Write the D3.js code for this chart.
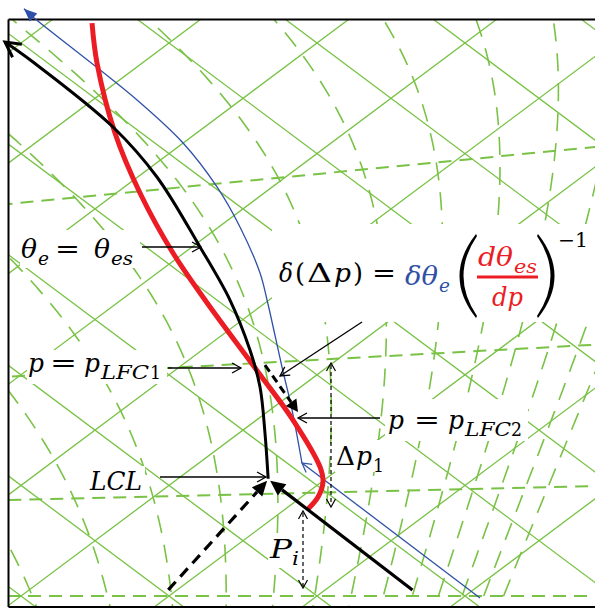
<!DOCTYPE html>
<html><head><meta charset="utf-8">
<script src="https://cdn.jsdelivr.net/npm/d3@7"></script>
<style>body{margin:0;background:#fff}svg{display:block}</style>
</head><body>
<svg id="chart" width="595" height="610"></svg>
<script>
// ---- Diagram coordinate families (temperature / potential temperature in °C, pressure in hPa) ----
const isotherms   = [-60, -50, -40, -30, -20, -10, 0, 10, 20, 30, 40];
const isentropes  = [-10, 0, 10, 20, 30, 40, 50, 60, 70, 80, 90, 100];
const isobars     = [1000, 800, 600, 400];
const satThetaEs  = [285, 295, 305, 315, 325, 335, 345, 355, 365, 375, 385, 395, 405]; // K

// ---- Profiles as (T, θ) pairs, °C ----
const lcl          = {T: 6.1, th: 27.3};
const parcelDry    = [{T: 25.9, th: 27.0}, lcl];
const dewPointLine = [{T: 9.4, th: 10.5}, lcl];
const parcelMoist  = [lcl, {T: 1.75, th: 31.22}, {T: -2.75, th: 35.05}, {T: -6.77, th: 37.71},
  {T: -12.64, th: 40.88}, {T: -19.46, th: 43.65}, {T: -28.70, th: 47.07}, {T: -36.19, th: 48.62},
  {T: -47.47, th: 49.09}, {T: -51.17, th: 49.01}];
const thetaEsCurve = [{T: -47.0, th: 56.6}, {T: -43.06, th: 53.33}, {T: -35.51, th: 48.21},
  {T: -28.40, th: 44.48}, {T: -20.74, th: 41.28}, {T: -14.33, th: 39.20}, {T: -4.24, th: 36.27},
  {T: 2.47, th: 34.29}, {T: 8.54, th: 31.87}, {T: 10.10, th: 30.71}, {T: 11.12, th: 29.02},
  {T: 11.55, th: 27.10}];
const thetaELow    = [{T: 31.2, th: 30.83}, {T: 6.96, th: 31.01}];
const thetaEHigh   = [{T: 6.96, th: 31.01}, {T: 1.50, th: 35.13}, {T: -3.07, th: 38.34},
  {T: -10.14, th: 43.39}, {T: -13.06, th: 45.36}, {T: -18.57, th: 48.16}, {T: -23.74, th: 50.23},
  {T: -30.01, th: 51.91}, {T: -37.01, th: 52.69}, {T: -51.54, th: 53.16}, {T: -52.9, th: 53.3}];
const shiftArrow   = [{T: -4.4, th: 37.37}, {T: 2.08, th: 35.35}];

const KAPPA = 0.2857;
const GREEN = "#79c245", RED = "#ec1c24", BLUE = "#2f50a6";

// rotated T–θ axes: horizontal position follows T+θ, vertical follows θ−T
const sx = d3.scaleLinear().domain([0, 20]).range([21, 169]);
const sy = d3.scaleLinear().domain([0, 100]).range([596, 43]);
const px = d => sx(d.T + d.th), py = d => sy(d.th - d.T);
const line = d3.line().x(px).y(py);
const smooth = d3.line().x(px).y(py).curve(d3.curveCatmullRom.alpha(0.5));

const svg = d3.select("#chart");
svg.append("defs").append("clipPath").attr("id", "frame")
  .append("rect").attr("x", 8.5).attr("y", 19.5).attr("width", 590).attr("height", 587.5);
const grid = svg.append("g").attr("clip-path", "url(#frame)");

// isotherms and dry adiabats
isotherms.forEach(T => grid.append("path").attr("d", line([{T, th: -80}, {T, th: 160}]))
  .attr("stroke", GREEN).attr("stroke-width", 1.3).attr("fill", "none"));
isentropes.forEach(th => grid.append("path").attr("d", line([{T: -140, th}, {T: 80, th}]))
  .attr("stroke", GREEN).attr("stroke-width", 1.3).attr("fill", "none"));

// isobars
isobars.forEach(p => {
  const c = Math.pow(1000 / p, KAPPA);
  const pts = [-140, 80].map(T => ({T, th: (T + 273.15) * c - 273.15}));
  grid.append("path").attr("d", line(pts)).attr("stroke", GREEN).attr("stroke-width", 2)
    .attr("stroke-dasharray", "13,8").attr("fill", "none");
});

// saturated adiabats (constant saturation equivalent potential temperature)
const es = T => 6.112 * Math.exp(17.67 * T / (T + 243.5));
function thetaEs(T, p) {
  const TK = T + 273.15, e = es(T), r = 622 * e / (p - e);
  return TK * Math.pow(1000 / p, 0.2854 * (1 - 0.00028 * r)) *
    Math.exp((3.376 / TK - 0.00254) * r * (1 + 0.00081 * r));
}
function solveT(target, p) {
  let lo = -120, hi = 60;
  while (es(hi) > 0.3 * p) hi -= 1;
  if (thetaEs(hi, p) < target || thetaEs(lo, p) > target) return null;
  for (let i = 0; i < 50; i++) {
    const m = (lo + hi) / 2;
    if (thetaEs(m, p) > target) hi = m; else lo = m;
  }
  return (lo + hi) / 2;
}
satThetaEs.forEach(te => {
  const pts = [];
  for (let p = 1060; p >= 150; p -= 4) {
    const T = solveT(te, p);
    if (T === null) continue;
    pts.push({T, th: (T + 273.15) * Math.pow(1000 / p, KAPPA) - 273.15});
  }
  grid.append("path").attr("d", line(pts)).attr("stroke", GREEN).attr("stroke-width", 1.6)
    .attr("stroke-dasharray", "18,12").attr("fill", "none");
});

// frame
svg.append("path").attr("d", "M8.5,19.5H600M8.5,19.5V607M8.5,607H600")
  .attr("stroke", "#000").attr("stroke-width", 2).attr("fill", "none");

// blank panels behind the labels
const boxes = [[272, 224, 323, 98], [20, 230, 120, 38], [27, 350, 140, 34], [88, 466, 57, 28],
  [385, 399, 143, 42], [335, 440, 53, 32], [268, 535, 34, 33]];
boxes.forEach(([x, y, w, h]) => svg.append("rect").attr("x", x).attr("y", y)
  .attr("width", w).attr("height", h).attr("fill", "#fff"));

// arrowhead helper
function head(tip, from, len, half, filled, color, width) {
  const dx = tip[0] - from[0], dy = tip[1] - from[1], L = Math.hypot(dx, dy);
  const ux = dx / L, uy = dy / L, nx = -uy, ny = ux;
  const bx = tip[0] - ux * len, by = tip[1] - uy * len;
  const a = [bx + nx * half, by + ny * half], b = [bx - nx * half, by - ny * half];
  const p = svg.append("path");
  if (filled) p.attr("d", `M${a}L${tip}L${b}Z`).attr("fill", color);
  else p.attr("d", `M${a}L${tip}L${b}`).attr("fill", "none").attr("stroke", color)
    .attr("stroke-width", width).attr("stroke-linejoin", "miter");
  return [bx, by];
}
const P = d => [px(d), py(d)];

// environmental θe profile (blue) with direction markers
svg.append("path").attr("d", line(thetaELow)).attr("stroke", BLUE).attr("stroke-width", 1.3).attr("fill", "none");
svg.append("path").attr("d", smooth(thetaEHigh)).attr("stroke", BLUE).attr("stroke-width", 1.3).attr("fill", "none");
head(P(thetaEHigh[10]), P(thetaEHigh[9]), 13, 5.5, true, BLUE);
head(P(thetaELow[1]), P(thetaELow[0]), 9, 5, false, BLUE, 1.2);

// θes profile (red)
svg.append("path").attr("d", smooth(thetaEsCurve)).attr("stroke", RED).attr("stroke-width", 5)
  .attr("fill", "none").attr("stroke-linecap", "butt");

// lifted parcel: dry ascent, dew point line, saturated ascent
{
  const tip = P(lcl), tail = P(parcelDry[0]);
  const base = head([tip[0] + 2, tip[1] + 2], tail, 15, 7, true, "#000");
  svg.append("path").attr("d", `M${tail}L${base}`).attr("stroke", "#000").attr("stroke-width", 3.2);
}
{
  const tip = P(lcl), tail = P(dewPointLine[0]);
  const base = head([tip[0] - 1, tip[1] + 2], tail, 15, 7, true, "#000");
  svg.append("path").attr("d", `M${tail}L${base}`).attr("stroke", "#000").attr("stroke-width", 3.2)
    .attr("stroke-dasharray", "11,7");
}
svg.append("path").attr("d", smooth(parcelMoist)).attr("stroke", "#000").attr("stroke-width", 3).attr("fill", "none");
head(P(parcelMoist[9]), P(parcelMoist[8]), 15, 8, false, "#000", 3);
{
  const tail = P(shiftArrow[0]), tip = P(shiftArrow[1]);
  const base = head(tip, tail, 12, 6.5, true, "#000");
  svg.append("path").attr("d", `M${tail}L${base}`).attr("stroke", "#000").attr("stroke-width", 3)
    .attr("stroke-dasharray", "8,5");
}

// thin label arrows
function pointer(x1, y1, x2, y2) {
  svg.append("path").attr("d", `M${x1},${y1}L${x2},${y2}`).attr("stroke", "#000").attr("stroke-width", 1.3);
  head([x2, y2], [x1, y1], 9, 5, false, "#000", 1.3);
}
pointer(142, 247, 201, 247);
pointer(168, 368, 241, 368);
pointer(160, 477, 266, 477);
pointer(380, 418, 298, 418);
pointer(362, 322, 280, 376);

function span(x, y1, y2) {
  svg.append("path").attr("d", `M${x},${y1 + 2}V${y2 - 2}`).attr("stroke", "#000")
    .attr("stroke-width", 1.2).attr("stroke-dasharray", "4,3");
  head([x, y1], [x, y2], 8, 4.5, false, "#000", 1.2);
  head([x, y2], [x, y1], 8, 4.5, false, "#000", 1.2);
}
span(331, 363, 507);
span(303, 511, 588);

// text
const FONT = "'DejaVu Serif', 'Liberation Serif', serif";
function t(x, y, s, size, opts = {}) {
  const el = svg.append("text").attr("x", x).attr("y", y).text(s)
    .attr("font-family", FONT).attr("font-size", size)
    .attr("font-style", opts.up ? "normal" : "italic")
    .attr("fill", opts.color || "#000");
  if (opts.w) el.attr("textLength", opts.w).attr("lengthAdjust", "spacingAndGlyphs");
  return el;
}
const M = 26, S = 18;
// θe = θes
t(21, 258, "θ", M, {w: 16}); t(38, 265, "e", S, {w: 11}); t(55, 258, "=", M, {up: 1, w: 25});
t(94, 258, "θ", M, {w: 16}); t(111, 265, "es", S, {w: 22});
// p = pLFC1
t(28, 372, "p", M, {w: 16}); t(50, 372, "=", M, {up: 1, w: 27}); t(84, 372, "p", M, {w: 16});
t(101, 379, "LFC", S, {w: 48}); t(150, 379, "1", S, {up: 1, w: 11});
// LCL
t(90, 490, "LCL", M, {w: 52});
// Pi
t(270, 558, "P", M, {w: 22}); t(292, 565, "i", S, {w: 7});
// p = pLFC2
t(388, 429, "p", M, {w: 16}); t(414, 429, "=", M, {up: 1, w: 26}); t(448, 429, "p", M, {w: 16});
t(465, 436, "LFC", S, {w: 46}); t(511, 436, "2", S, {up: 1, w: 11});
// Δp1
t(336, 465, "Δ", M, {up: 1, w: 19}); t(356, 465, "p", M, {w: 16}); t(373, 472, "1", S, {up: 1, w: 11});
// δ(Δp) = δθe (dθes/dp)^-1
t(279, 282, "δ", M, {w: 14}); t(295, 282, "(", M, {up: 1, w: 10}); t(307, 282, "Δ", M, {up: 1, w: 25});
t(334, 282, "p", M, {w: 17}); t(353, 282, ")", M, {up: 1, w: 10}); t(372, 282, "=", M, {up: 1, w: 24});
t(405, 285, "δθ", M, {color: BLUE, w: 33}); t(439, 292, "e", S, {color: BLUE, w: 11});
t(478, 266, "dθ", M, {color: RED, w: 35}); t(514, 273, "es", S, {color: RED, w: 23});
svg.append("rect").attr("x", 477).attr("y", 275.5).attr("width", 61).attr("height", 3).attr("fill", RED);
t(492, 306, "dp", M, {color: RED, w: 31});
svg.append("path").attr("d", "M476,234Q443,276 476,318L477,316Q450,276 477,236Z").attr("fill", "#000");
svg.append("path").attr("d", "M538,234Q571,276 538,318L537,316Q564,276 537,236Z").attr("fill", "#000");
t(558, 247, "−1", 20, {up: 1, w: 30});
</script>
</body></html>
